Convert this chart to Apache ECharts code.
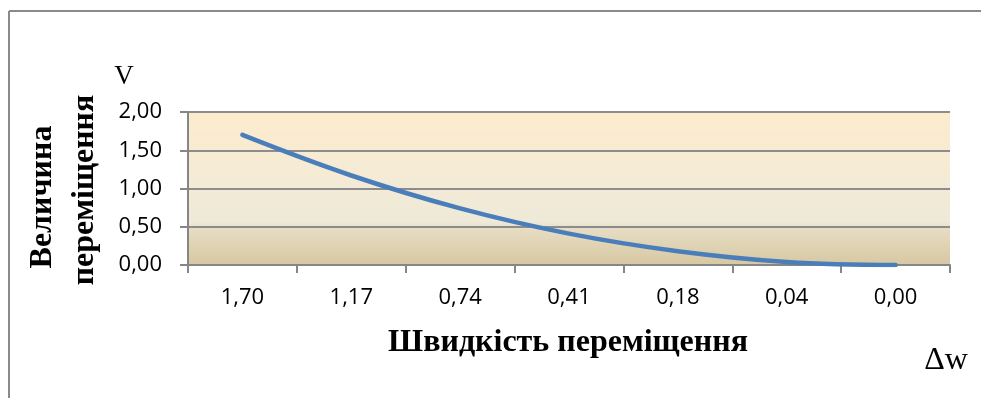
<!DOCTYPE html>
<html>
<head>
<meta charset="utf-8">
<script src="https://cdn.jsdelivr.net/npm/echarts@6/dist/echarts.min.js"></script>
<style>
  html, body { margin: 0; padding: 0; background: #fff; }
  #chart { width: 981px; height: 398px; }
</style>
</head>
<body>
<div id="chart"></div>
<script>
// Speed of displacement (category labels) and displacement magnitude
const speedLabels = ['1,70', '1,17', '0,74', '0,41', '0,18', '0,04', '0,00'];
const displacement = [1.70, 1.17, 0.74, 0.41, 0.18, 0.04, 0.00];
const yTicks = { min: 0, max: 2, interval: 0.5 };

const chart = echarts.init(document.getElementById('chart'));
const axisGray = '#868686';
const serif = '"Liberation Serif", "DejaVu Serif", serif';
const sans = '"Open Sans", "Noto Sans", sans-serif';

chart.setOption({
  animation: false,
  grid: {
    left: 188, top: 112, right: 31, bottom: 133,
    show: true, borderWidth: 0,
    backgroundColor: {
      type: 'linear', x: 0, y: 0, x2: 0, y2: 1,
      colorStops: [
        { offset: 0, color: '#fdebcd' },
        { offset: 0.45, color: '#f4ebd6' },
        { offset: 0.72, color: '#eee9d8' },
        { offset: 0.76, color: '#e7ddc4' },
        { offset: 1, color: '#d7c8a2' }
      ]
    }
  },
  xAxis: {
    type: 'category',
    data: speedLabels,
    boundaryGap: true,
    axisLine: { lineStyle: { color: axisGray, width: 2 } },
    axisTick: { show: true, length: 8, lineStyle: { color: axisGray, width: 2 } },
    axisLabel: { color: '#000', fontFamily: sans, fontSize: 22, margin: 22 }
  },
  yAxis: {
    type: 'value',
    min: yTicks.min, max: yTicks.max, interval: yTicks.interval,
    axisLine: { show: true, lineStyle: { color: axisGray, width: 2 } },
    axisTick: { show: true, length: 8, lineStyle: { color: axisGray, width: 2 } },
    splitLine: { lineStyle: { color: '#8c8c8c', width: 2 } },
    axisLabel: {
      color: '#000', fontFamily: sans, fontSize: 22, margin: 26,
      formatter: v => v.toFixed(2).replace('.', ',')
    }
  },
  series: [{
    type: 'line',
    data: displacement,
    smooth: 0.4,
    symbol: 'none',
    lineStyle: { color: '#4a7ebb', width: 4.5, cap: 'round' }
  }],
  graphic: [
    // outer frame
    { type: 'line', shape: { x1: 9, y1: 11, x2: 981, y2: 11 }, style: { stroke: '#8a8a8a', lineWidth: 2 } },
    { type: 'line', shape: { x1: 9, y1: 11, x2: 9, y2: 398 }, style: { stroke: '#8a8a8a', lineWidth: 2 } },
    {
      type: 'text', x: 43, y: 197, rotation: Math.PI / 2,
      style: { text: 'Величина', font: 'bold 32px ' + serif, fill: '#000', align: 'center', verticalAlign: 'middle' }
    },
    {
      type: 'text', x: 85, y: 190, rotation: Math.PI / 2,
      style: { text: 'переміщення', font: 'bold 32px ' + serif, fill: '#000', align: 'center', verticalAlign: 'middle' }
    },
    {
      type: 'text', x: 124, y: 77,
      style: { text: 'V', font: '27px ' + serif, fill: '#000', align: 'center', verticalAlign: 'middle' }
    },
    {
      type: 'text', x: 568, y: 343,
      style: { text: 'Швидкість переміщення', font: 'bold 32px ' + serif, fill: '#000', align: 'center', verticalAlign: 'middle' }
    },
    {
      type: 'text', x: 946, y: 361,
      style: { text: 'Δw', font: '32px ' + serif, fill: '#000', align: 'center', verticalAlign: 'middle' }
    }
  ]
});
</script>
</body>
</html>
